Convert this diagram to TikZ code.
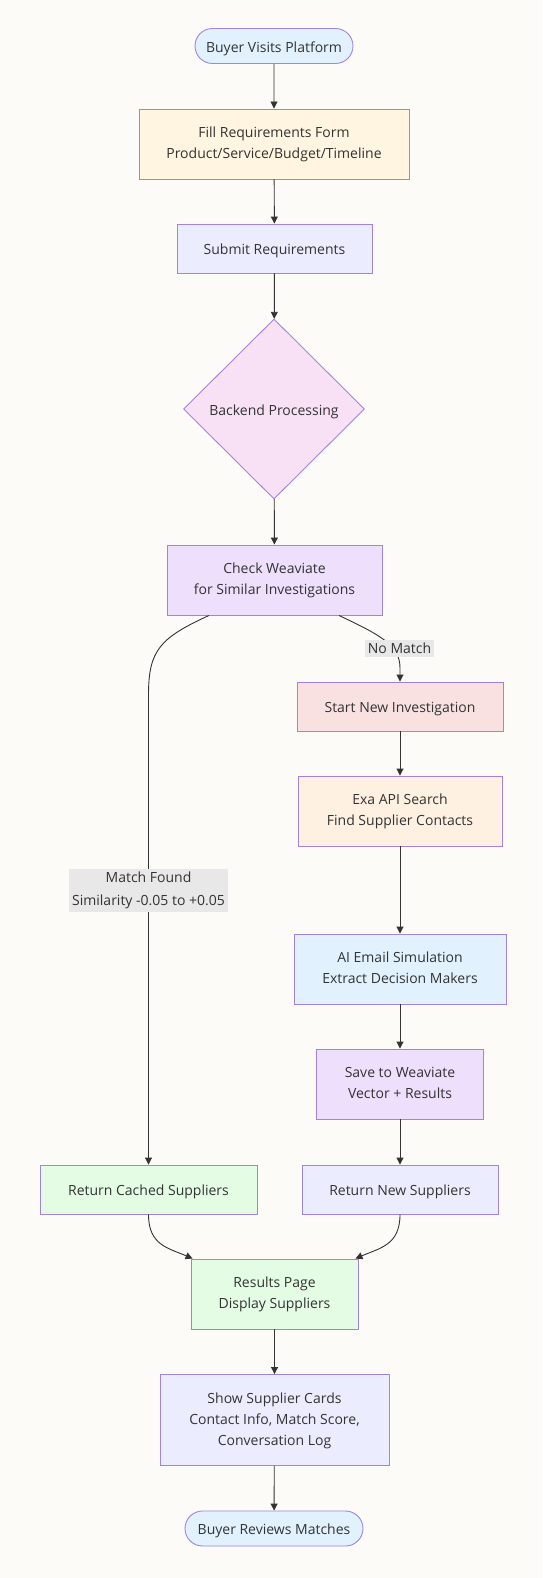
\documentclass[tikz,border=0pt]{standalone}
\usepackage{fontspec}
\setmainfont{Open Sans}
\usetikzlibrary{arrows.meta,shapes.geometric,shapes.misc,calc}
\definecolor{bgc}{HTML}{FCFBF8}
\definecolor{strokec}{HTML}{A084E0}
\definecolor{txt}{HTML}{333333}
\definecolor{lblue}{HTML}{E1F2FE}
\definecolor{cream}{HTML}{FFF5E1}
\definecolor{lav}{HTML}{ECECFF}
\definecolor{pinkc}{HTML}{F9E1F5}
\definecolor{purp}{HTML}{EEDFFC}
\definecolor{rosec}{HTML}{F9E1E2}
\definecolor{peach}{HTML}{FFF1E1}
\definecolor{greenc}{HTML}{E4FCE4}
\definecolor{lblgray}{HTML}{E8E8E8}
\newcommand\mltext[1]{\raisebox{-2.5pt}{\begin{tabular}{@{}c@{}}#1\end{tabular}}}
\tikzset{
  base/.style={draw=strokec, line width=0.9pt, text=txt, align=center, inner sep=0pt,
    font=\fontsize{14}{21}\selectfont},
  one/.style={execute at begin node={\rule{0pt}{16pt}}},
  multi/.style={},
  boxn/.style={base, rectangle},
  pill/.style={base, rounded rectangle},
  arr/.style={draw=txt, line width=0.9pt, -{Triangle[length=7pt,width=7pt]}},
  elabel/.style={fill=lblgray, text=txt, align=center, inner xsep=3pt, inner ysep=3pt,
    font=\fontsize{14}{23}\selectfont},
}
\begin{document}
\begin{tikzpicture}[x=1pt,y=-1pt]
\fill[bgc] (0,0) rectangle (542,1578);
\useasboundingbox (0,0) rectangle (542,1578);

\node[pill, one, fill=lblue, minimum width=158, minimum height=35] (n1) at (274,46) {Buyer Visits Platform};
\node[boxn, multi, fill=cream, minimum width=270, minimum height=70] (n2) at (274,144) {\mltext{Fill Requirements Form\\Product/Service/Budget/Timeline}};
\node[boxn, one, fill=lav, minimum width=195, minimum height=49] (n3) at (274.5,248.5) {Submit Requirements};
\node[base, one, diamond, fill=pinkc, minimum width=181, minimum height=180, aspect=1] (n4) at (274,409) {Backend Processing};
\node[boxn, multi, fill=purp, minimum width=215, minimum height=70] (n5) at (274.5,580) {\mltext{Check Weaviate\\for Similar Investigations}};
\node[boxn, one, fill=rosec, minimum width=206, minimum height=49] (n6) at (400,706.5) {Start New Investigation};
\node[boxn, multi, fill=peach, minimum width=204, minimum height=70] (n7) at (400,811) {\mltext{Exa API Search\\Find Supplier Contacts}};
\node[boxn, multi, fill=lblue, minimum width=212, minimum height=70] (n8) at (400,969) {\mltext{AI Email Simulation\\Extract Decision Makers}};
\node[boxn, multi, fill=purp, minimum width=167, minimum height=70] (n9) at (400,1084) {\mltext{Save to Weaviate\\Vector + Results}};
\node[boxn, one, fill=greenc, minimum width=217, minimum height=49] (n10) at (148.5,1189.5) {Return Cached Suppliers};
\node[boxn, one, fill=lav, minimum width=196, minimum height=49] (n11) at (400,1189.5) {Return New Suppliers};
\node[boxn, multi, fill=greenc, minimum width=167, minimum height=70] (n12) at (274.5,1294) {\mltext{Results Page\\Display Suppliers}};
\node[boxn, multi, fill=lav, minimum width=229, minimum height=91] (n13) at (274.5,1420) {\mltext{Show Supplier Cards\\Contact Info, Match Score,\\Conversation Log}};
\node[pill, one, fill=lblue, minimum width=178, minimum height=35] (n14) at (274,1528.5) {Buyer Reviews Matches};

\draw[arr] (n1) -- (n2);
\draw[arr] (n2) -- (n3);
\draw[arr] (n3) -- (n4);
\draw[arr] (n4) -- (n5);
\draw[arr] (n6) -- (n7);
\draw[arr] (n7) -- (n8);
\draw[arr] (n8) -- (n9);
\draw[arr] (n9) -- (n11);
\draw[arr] (n12) -- (n13);
\draw[arr] (n13) -- (n14);

\coordinate (lstart) at ($(n5.south)+(-65.5,0)$);
\coordinate (lbend) at (148.5,695);
\draw[arr] (lstart) .. controls (160,638) and (148.5,650) .. (lbend) -- (n10.north);
\node[elabel] (l1) at (148.5,890) {Match Found\\Similarity -0.05 to +0.05};

\coordinate (rstart) at ($(n5.south)+(64.5,0)$);
\coordinate (rbend) at (400,668);
\draw[arr] (rstart) .. controls (380,635) and (400,645) .. (rbend) -- (n6.north);
\node[elabel] (l2) at (399.5,648.5) {No Match};

\coordinate (m1) at ($(n12.north west)+(2,0)$);
\coordinate (m2) at ($(n12.north east)+(-3,0)$);
\draw[arr] (n10.south) .. controls (148.5,1245) and (168,1248) .. (m1);
\draw[arr] (n11.south) .. controls (400,1245) and (380,1248) .. (m2);
\end{tikzpicture}
\end{document}
